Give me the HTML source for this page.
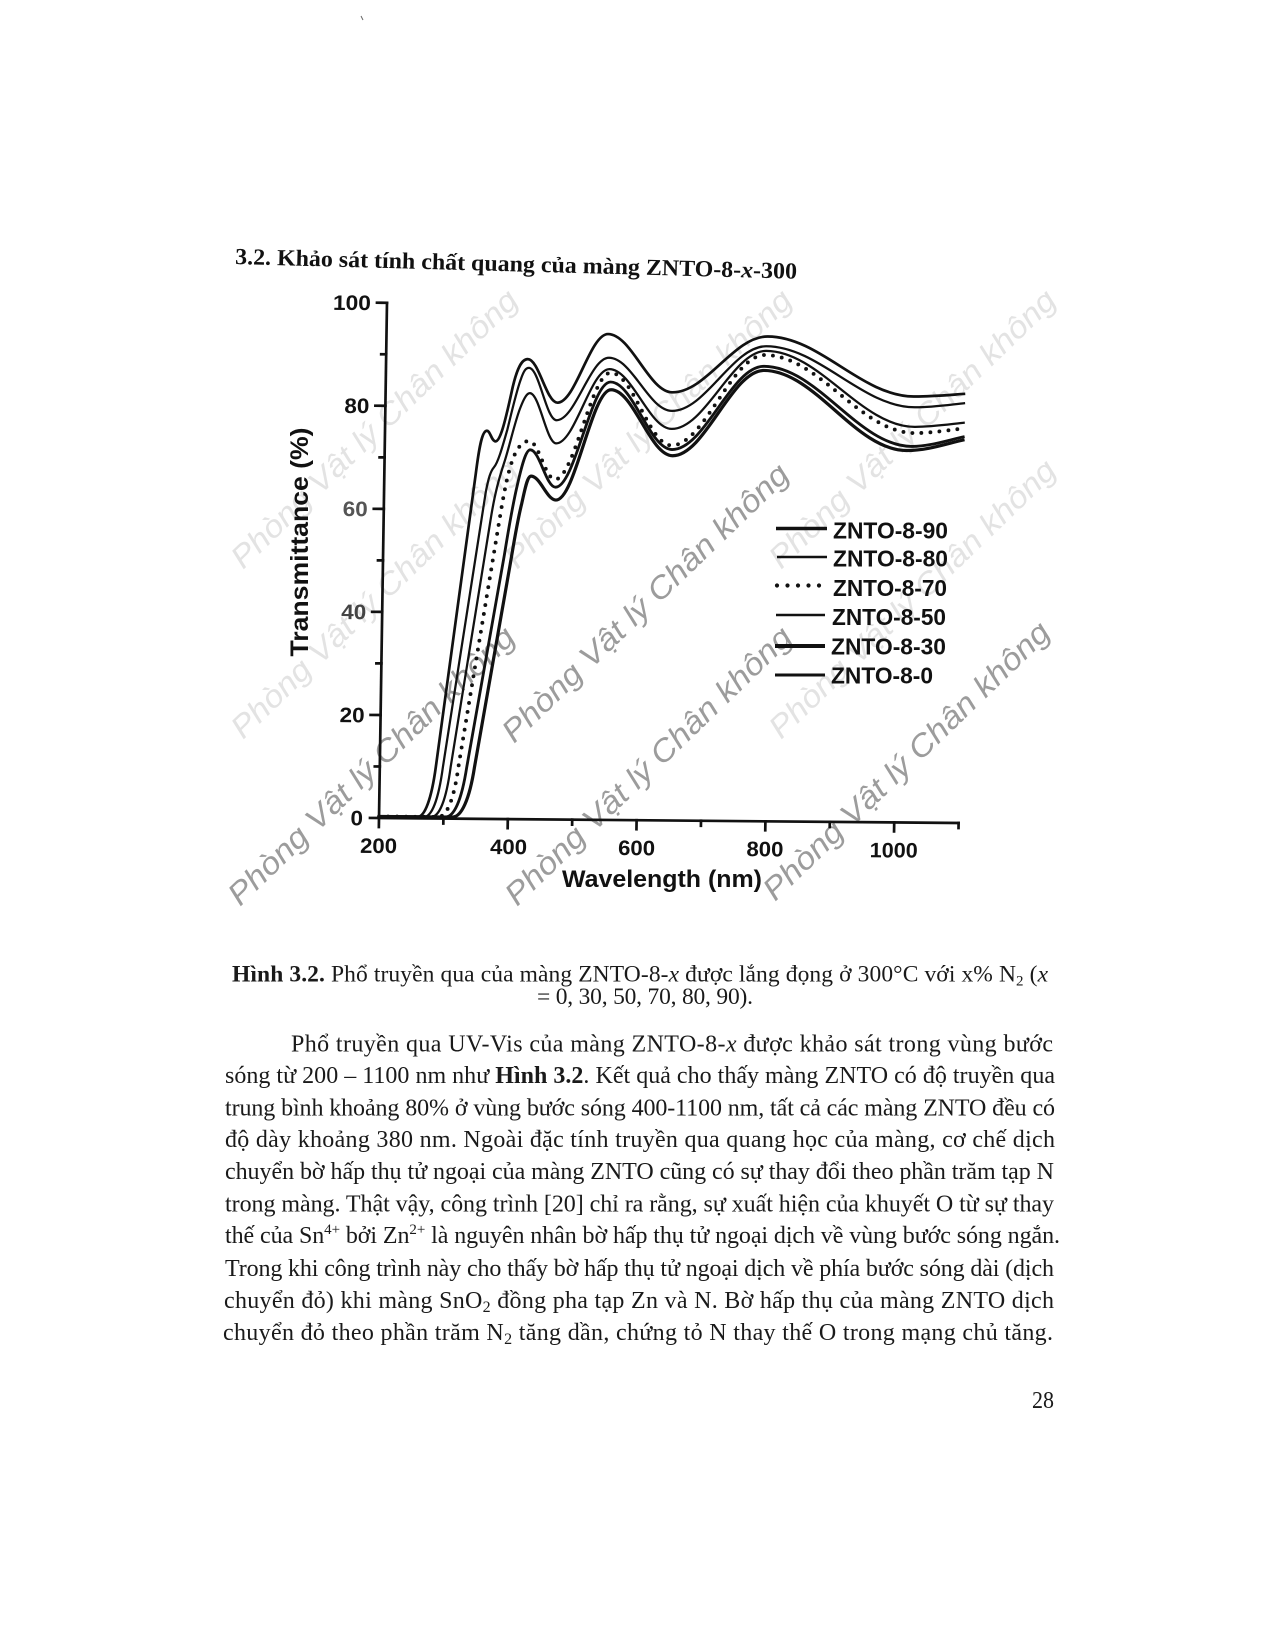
<!DOCTYPE html>
<html>
<head>
<meta charset="utf-8">
<style>
html,body{margin:0;padding:0;background:#fff;}
svg{display:block;}
</style>
</head>
<body>
<svg width="1275" height="1650" viewBox="0 0 1275 1650" xmlns="http://www.w3.org/2000/svg">
<rect x="0" y="0" width="1275" height="1650" fill="#ffffff"/>
<line x1="361" y1="16" x2="363" y2="20" stroke="#666" stroke-width="1"/>

<!-- watermarks -->
<g font-family="Liberation Sans, Arial, sans-serif" font-style="italic" font-size="31">
  <g fill="#e3e3e3">
    <text transform="translate(243,570) rotate(-44)" textLength="385" lengthAdjust="spacingAndGlyphs">Phòng Vật lý Chân không</text>
    <text transform="translate(517,570) rotate(-44)" textLength="385" lengthAdjust="spacingAndGlyphs">Phòng Vật lý Chân không</text>
    <text transform="translate(781,570) rotate(-44)" textLength="385" lengthAdjust="spacingAndGlyphs">Phòng Vật lý Chân không</text>
    <text transform="translate(243,740) rotate(-44)" textLength="385" lengthAdjust="spacingAndGlyphs">Phòng Vật lý Chân không</text>
    <text transform="translate(781,740) rotate(-44)" textLength="385" lengthAdjust="spacingAndGlyphs">Phòng Vật lý Chân không</text>
  </g>
  <g fill="#9c9c9c">
    <text transform="translate(514,744) rotate(-44)" textLength="385" lengthAdjust="spacingAndGlyphs">Phòng Vật lý Chân không</text>
    <text transform="translate(240,907) rotate(-44)" textLength="385" lengthAdjust="spacingAndGlyphs">Phòng Vật lý Chân không</text>
    <text transform="translate(517,907) rotate(-44)" textLength="385" lengthAdjust="spacingAndGlyphs">Phòng Vật lý Chân không</text>
    <text transform="translate(775,902) rotate(-44)" textLength="385" lengthAdjust="spacingAndGlyphs">Phòng Vật lý Chân không</text>
  </g>
</g>

<!-- title -->
<text transform="rotate(1.5 235 264)" x="235" y="264" font-family="Liberation Serif, 'Times New Roman', serif" font-weight="bold" font-size="23" fill="#111" textLength="562" lengthAdjust="spacingAndGlyphs">3.2. Khảo sát tính chất quang của màng ZNTO-8-<tspan font-style="italic">x</tspan>-300</text>

<!-- chart (slight skew to mimic scan) -->
<g transform="matrix(1 0.0086 -0.0155 1 12.68 -3.26)">
  <g stroke="#111" stroke-width="2.7" fill="none" stroke-linecap="square">
    <line x1="379" y1="302.8" x2="379" y2="827"/>
    <line x1="370" y1="818" x2="958.6" y2="818"/>
    <line x1="369" y1="302.8" x2="379" y2="302.8"/>
    <line x1="369" y1="405.8" x2="379" y2="405.8"/>
    <line x1="369" y1="508.9" x2="379" y2="508.9"/>
    <line x1="369" y1="611.9" x2="379" y2="611.9"/>
    <line x1="369" y1="715" x2="379" y2="715"/>
    <line x1="374" y1="354.3" x2="379" y2="354.3"/>
    <line x1="374" y1="457.4" x2="379" y2="457.4"/>
    <line x1="374" y1="560.4" x2="379" y2="560.4"/>
    <line x1="374" y1="663.4" x2="379" y2="663.4"/>
    <line x1="374" y1="766.5" x2="379" y2="766.5"/>
    <line x1="507.8" y1="818" x2="507.8" y2="827"/>
    <line x1="636.6" y1="818" x2="636.6" y2="827"/>
    <line x1="765.4" y1="818" x2="765.4" y2="827"/>
    <line x1="894.2" y1="818" x2="894.2" y2="827"/>
    <line x1="443.4" y1="818" x2="443.4" y2="823"/>
    <line x1="572.2" y1="818" x2="572.2" y2="823"/>
    <line x1="701" y1="818" x2="701" y2="823"/>
    <line x1="829.8" y1="818" x2="829.8" y2="823"/>
    <line x1="958.6" y1="818" x2="958.6" y2="823"/>
  </g>
  <g font-family="Liberation Sans, Arial, sans-serif" font-weight="bold" font-size="21" fill="#111" text-anchor="end">
    <text x="363" y="310.3" textLength="38" lengthAdjust="spacingAndGlyphs">100</text>
    <text x="363" y="413.3" textLength="25" lengthAdjust="spacingAndGlyphs">80</text>
    <text x="363" y="516.4" textLength="25" lengthAdjust="spacingAndGlyphs" fill="#555">60</text>
    <text x="363" y="619.4" textLength="25" lengthAdjust="spacingAndGlyphs" fill="#444">40</text>
    <text x="363" y="722.5" textLength="25" lengthAdjust="spacingAndGlyphs">20</text>
    <text x="363" y="825.5" textLength="12.5" lengthAdjust="spacingAndGlyphs">0</text>
  </g>
  <g font-family="Liberation Sans, Arial, sans-serif" font-weight="bold" font-size="21" fill="#111" text-anchor="middle">
    <text x="379" y="853" textLength="37" lengthAdjust="spacingAndGlyphs">200</text>
    <text x="509" y="853" textLength="37" lengthAdjust="spacingAndGlyphs">400</text>
    <text x="637" y="853" textLength="37" lengthAdjust="spacingAndGlyphs">600</text>
    <text x="765.4" y="853" textLength="37" lengthAdjust="spacingAndGlyphs">800</text>
    <text x="894.2" y="853" textLength="48" lengthAdjust="spacingAndGlyphs">1000</text>
  </g>

  <!-- curves: data coords x=nm, y=8*T -->
  <g transform="matrix(0.644 0 0 -0.644 250.2 818)" fill="none" stroke="#111" stroke-linejoin="round">
    <path stroke-width="4.2" d="M200,2.4 L260,2.4 C271,2.4 281,30 287,80 L342,536 C346,572 350,600 357,602.4 C363,605 365,588 371,586.4 C379,585 386,616 395,660 C403,702 411,714.4 420,714.4 C437,714.4 450,647.2 467,647.2 C495,647.2 516,754.4 544,754.4 C580,754.4 609,664.8 645,664.8 C698,664.8 739,752.8 792,752.8 C874,752.8 938,661.6 1020,661.6 C1048,661.6 1078,664.8 1100,666.4"/>
    <path stroke-width="3.5" d="M200,2.4 L270,2.4 C282,2.4 292,30 298,80 L358,508 C362,530 365,540 370,546 C376,553 382,575 390,605 C398,640 404,668 410,684 C414,696 417,700.8 422,700.8 C438,700.8 450,620 466,620 C495,620 517,717.6 546,717.6 C582,717.6 609,636 645,636 C697,636 738,737.6 790,737.6 C873,737.6 939,644.8 1022,644.8 C1048,644.8 1078,649.6 1100,652"/>
    <path stroke-width="3.5" d="M200,2.4 L281,2.4 C294,2.4 304,30 310,80 L366,464 C372,506 378,528 386,554 C394,580 402,620 410,640 C416,656 420,661.6 424,661.6 C439,661.6 451,584 466,584 C495,584 518,700 547,700 C582,700 610,608 645,608 C697,608 738,730.4 790,730.4 C873,730.4 939,614.4 1022,614.4 C1048,614.4 1078,619.2 1100,621.6"/>
    <path stroke-width="6" stroke-linecap="round" stroke-dasharray="0 14" d="M200,2.4 L292,2.4 C305,2.4 316,30 322,80 L381,472 C387,512 393,544 401,564 C409,582 416,587.2 424,587.2 C439,587.2 450,528 465,528 C495,528 519,694.4 549,694.4 C584,694.4 610,582.4 645,582.4 C696,582.4 737,724 788,724 C872,724 938,604.8 1022,604.8 C1048,604.8 1078,610.4 1100,612.8"/>
    <path stroke-width="4.4" d="M200,2.4 L303,2.4 C317,2.4 328,30 335,80 L388,408 C394,448 399,484 407,520 C413,548 419,573.6 426,573.6 C440.5,573.6 451.5,516 466,516 C496,516 519,680 549,680 C584,680 611,576 646,576 C697,576 736,706.4 787,706.4 C870,706.4 935,584 1018,584 C1045,584 1075,594.4 1100,600"/>
    <path stroke-width="5" d="M200,2.4 L314,2.4 C328,2.4 340,30 347,80 L397,392 C403,430 407,460 414,490 C419,514 422,532.8 428,532.8 C442,532.8 453,496 467,496 C497,496 520,668 550,668 C585,668 612,566.4 647,566.4 C697,566.4 737,700 787,700 C867,700 930,577.6 1010,577.6 C1042,577.6 1072,588.8 1100,595.2"/>
  </g>
</g>

<!-- axis titles -->
<text transform="translate(308,542) rotate(-90)" text-anchor="middle" font-family="Liberation Sans, Arial, sans-serif" font-weight="bold" font-size="25" fill="#111" textLength="229" lengthAdjust="spacingAndGlyphs">Transmittance (%)</text>
<text x="562" y="887" font-family="Liberation Sans, Arial, sans-serif" font-weight="bold" font-size="24" fill="#111" textLength="200" lengthAdjust="spacingAndGlyphs">Wavelength (nm)</text>

<!-- legend -->
<g stroke="#111" fill="none">
  <line x1="776" y1="528.5" x2="827" y2="528.5" stroke-width="3.5"/>
  <line x1="777" y1="557" x2="827" y2="557" stroke-width="2.6"/>
  <line x1="777" y1="585.5" x2="820" y2="585.5" stroke-width="4.2" stroke-linecap="round" stroke-dasharray="0 10.5"/>
  <line x1="776" y1="615" x2="825" y2="615" stroke-width="2.6"/>
  <line x1="775" y1="646" x2="825" y2="646" stroke-width="4"/>
  <line x1="775" y1="675" x2="825" y2="675" stroke-width="3"/>
</g>
<g font-family="Liberation Sans, Arial, sans-serif" font-weight="bold" font-size="23" fill="#111">
  <text x="833" y="538.5" textLength="115" lengthAdjust="spacingAndGlyphs">ZNTO-8-90</text>
  <text x="833" y="566.5" textLength="115" lengthAdjust="spacingAndGlyphs">ZNTO-8-80</text>
  <text x="833" y="596" textLength="114" lengthAdjust="spacingAndGlyphs">ZNTO-8-70</text>
  <text x="832" y="625" textLength="114" lengthAdjust="spacingAndGlyphs">ZNTO-8-50</text>
  <text x="831" y="654.5" textLength="115" lengthAdjust="spacingAndGlyphs">ZNTO-8-30</text>
  <text x="831" y="683.5" textLength="102" lengthAdjust="spacingAndGlyphs">ZNTO-8-0</text>
</g>

<!-- caption -->
<g font-family="Liberation Serif, 'Times New Roman', serif" font-size="23.5" fill="#1a1a1a">
  <text x="232" y="981.5" textLength="816" lengthAdjust="spacing"><tspan font-weight="bold">Hình 3.2.</tspan> Phổ truyền qua của màng ZNTO-8-<tspan font-style="italic">x</tspan> được lắng đọng ở 300°C với x% N<tspan dy="4" font-size="15">2</tspan><tspan dy="-4"> (</tspan><tspan font-style="italic">x</tspan></text>
  <text x="537" y="1004" textLength="216" lengthAdjust="spacing">= 0, 30, 50, 70, 80, 90).</text>
</g>

<!-- body -->
<g font-family="Liberation Serif, 'Times New Roman', serif" font-size="24" fill="#1a1a1a">
  <text x="291" y="1051.5" textLength="762" lengthAdjust="spacing">Phổ truyền qua UV-Vis của màng ZNTO-8-<tspan font-style="italic">x</tspan> được khảo sát trong vùng bước</text>
  <text x="225" y="1083" textLength="830" lengthAdjust="spacing">sóng từ 200 – 1100 nm như <tspan font-weight="bold">Hình 3.2</tspan>. Kết quả cho thấy màng ZNTO có độ truyền qua</text>
  <text x="225" y="1115.5" textLength="830" lengthAdjust="spacing">trung bình khoảng 80% ở vùng bước sóng 400-1100 nm, tất cả các màng ZNTO đều có</text>
  <text x="225" y="1147" textLength="830" lengthAdjust="spacing">độ dày khoảng 380 nm. Ngoài đặc tính truyền qua quang học của màng, cơ chế dịch</text>
  <text x="225" y="1179" textLength="829" lengthAdjust="spacing">chuyển bờ hấp thụ tử ngoại của màng ZNTO cũng có sự thay đổi theo phần trăm tạp N</text>
  <text x="225" y="1211.5" textLength="829" lengthAdjust="spacing">trong màng. Thật vậy, công trình [20] chỉ ra rằng, sự xuất hiện của khuyết O từ sự thay</text>
  <text x="225" y="1243" textLength="835" lengthAdjust="spacing">thế của Sn<tspan dy="-9" font-size="15">4+</tspan><tspan dy="9"> bởi Zn</tspan><tspan dy="-9" font-size="15">2+</tspan><tspan dy="9"> là nguyên nhân bờ hấp thụ tử ngoại dịch về vùng bước sóng ngắn.</tspan></text>
  <text x="225" y="1276" textLength="829" lengthAdjust="spacing">Trong khi công trình này cho thấy bờ hấp thụ tử ngoại dịch về phía bước sóng dài (dịch</text>
  <text x="224" y="1308" textLength="830" lengthAdjust="spacing">chuyển đỏ) khi màng SnO<tspan dy="4" font-size="16">2</tspan><tspan dy="-4"> đồng pha tạp Zn và N. Bờ hấp thụ của màng ZNTO dịch</tspan></text>
  <text x="223" y="1340" textLength="830" lengthAdjust="spacing">chuyển đỏ theo phần trăm N<tspan dy="4" font-size="16">2</tspan><tspan dy="-4"> tăng dần, chứng tỏ N thay thế O trong mạng chủ tăng.</tspan></text>
  <text x="1032" y="1408" textLength="22" lengthAdjust="spacingAndGlyphs">28</text>
</g>
</svg>
</body>
</html>
